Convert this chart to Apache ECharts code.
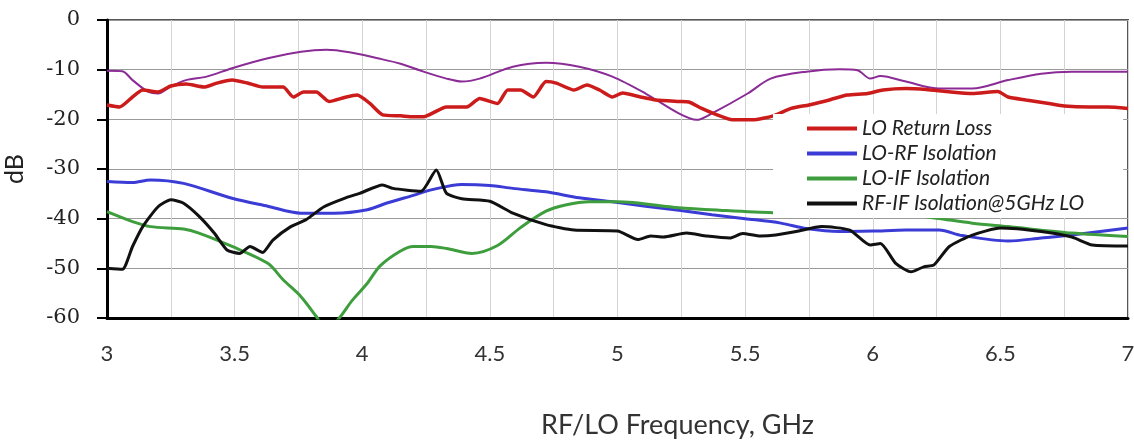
<!DOCTYPE html>
<html>
<head>
<meta charset="utf-8">
<script src="https://cdn.jsdelivr.net/npm/echarts@6/dist/echarts.min.js"></script>
<style>
html,body{margin:0;padding:0;background:#fff;}
#chart{width:1134px;height:444px;}
</style>
</head>
<body>
<div id="chart"></div>
<script>
// ---- data ----
const seriesNames = ['LO Return Loss', 'LO-RF Isolation', 'LO-IF Isolation', 'RF-IF Isolation@5GHz LO'];

const returnLossFreq = [3.00,3.05,3.10,3.14,3.20,3.25,3.31,3.38,3.43,3.49,3.55,3.61,3.69,3.73,3.77,3.82,3.87,3.93,3.98,4.03,4.08,4.15,4.20,4.24,4.33,4.41,4.46,4.53,4.57,4.62,4.67,4.72,4.76,4.83,4.88,4.93,4.98,5.02,5.09,5.15,5.24,5.28,5.33,5.39,5.45,5.53,5.61,5.68,5.75,5.83,5.90,5.98,6.04,6.13,6.21,6.29,6.39,6.49,6.53,6.60,6.69,6.75,6.85,6.92,7.00];
const returnLossDb   = [-17.1,-17.5,-15.5,-14.1,-14.5,-13.3,-12.9,-13.5,-12.7,-12.1,-12.7,-13.5,-13.5,-15.5,-14.5,-14.5,-16.4,-15.6,-15.1,-16.8,-19.1,-19.3,-19.5,-19.5,-17.5,-17.5,-15.8,-16.8,-14.1,-14.1,-15.5,-12.4,-12.7,-14.1,-13.1,-14.1,-15.5,-14.7,-15.5,-16.1,-16.4,-16.5,-17.8,-19.1,-20.1,-20.1,-19.3,-17.8,-17.1,-16.1,-15.1,-14.8,-14.1,-13.8,-14.0,-14.4,-14.8,-14.4,-15.5,-16.1,-16.8,-17.3,-17.5,-17.5,-17.8];

const loRfFreq = [3.00,3.10,3.17,3.30,3.49,3.63,3.76,3.89,4.02,4.10,4.20,4.27,4.39,4.50,4.59,4.72,4.85,4.98,5.11,5.24,5.37,5.50,5.64,5.74,5.87,6.00,6.13,6.26,6.35,6.53,6.66,6.78,7.00];
const loRfDb   = [-32.5,-32.7,-32.2,-32.9,-35.9,-37.5,-38.9,-38.9,-38.2,-36.8,-35.3,-34.2,-33.1,-33.3,-33.9,-34.6,-35.8,-36.6,-37.5,-38.3,-39.2,-40.0,-40.9,-42.0,-42.6,-42.5,-42.3,-42.3,-43.4,-44.5,-43.9,-43.3,-41.9];

const loIfFreq = [3.00,3.10,3.17,3.30,3.36,3.49,3.63,3.69,3.76,3.82,3.86,3.91,3.96,4.02,4.07,4.15,4.20,4.27,4.33,4.43,4.53,4.62,4.72,4.80,4.89,5.00,5.24,5.40,5.61,5.90,6.15,6.25,6.39,6.53,6.78,7.00];
const loIfDb   = [-38.6,-40.6,-41.6,-42.1,-42.9,-45.6,-49.0,-52.3,-55.7,-59.7,-62.5,-60.0,-56.5,-53.0,-49.5,-46.5,-45.6,-45.6,-46.0,-47.0,-45.4,-41.8,-38.5,-37.2,-36.6,-36.6,-37.8,-38.3,-38.8,-39.0,-39.3,-39.9,-40.9,-41.6,-42.9,-43.6];

const rfIfFreq = [3.00,3.06,3.10,3.14,3.20,3.25,3.30,3.36,3.42,3.47,3.52,3.56,3.61,3.65,3.72,3.78,3.85,3.93,3.99,4.08,4.12,4.23,4.29,4.33,4.39,4.50,4.59,4.72,4.83,5.00,5.08,5.13,5.18,5.27,5.35,5.44,5.49,5.56,5.62,5.70,5.80,5.91,5.99,6.03,6.09,6.15,6.20,6.24,6.30,6.39,6.50,6.66,6.78,6.86,7.00];
const rfIfDb   = [-50.0,-50.2,-45.6,-41.6,-37.6,-36.2,-36.9,-39.5,-42.9,-46.3,-47.0,-45.6,-46.8,-44.3,-41.6,-40.2,-37.6,-35.9,-34.9,-33.2,-33.9,-34.5,-30.2,-34.9,-36.0,-36.5,-38.9,-41.2,-42.3,-42.5,-44.2,-43.5,-43.7,-42.9,-43.5,-43.9,-43.0,-43.5,-43.3,-42.6,-41.6,-42.3,-45.3,-45.0,-49.0,-50.7,-49.7,-49.3,-45.6,-43.3,-41.9,-42.6,-43.7,-45.3,-45.5];

// unlabelled purple trace
const extraFreq = [3.00,3.06,3.10,3.16,3.20,3.25,3.31,3.39,3.49,3.63,3.76,3.86,3.95,4.06,4.15,4.24,4.33,4.39,4.46,4.59,4.72,4.85,4.98,5.11,5.24,5.31,5.37,5.51,5.60,5.74,5.87,5.94,5.99,6.03,6.13,6.26,6.39,6.53,6.66,6.78,7.00];
const extraDb   = [-10.2,-10.3,-12.1,-14.4,-14.8,-13.4,-12.1,-11.4,-9.7,-7.7,-6.4,-6.0,-6.5,-7.7,-8.8,-10.4,-11.8,-12.4,-11.8,-9.4,-8.6,-9.4,-11.4,-14.8,-18.8,-20.1,-18.8,-14.8,-11.8,-10.4,-9.9,-10.1,-11.8,-11.3,-12.4,-13.8,-13.8,-12.1,-10.8,-10.4,-10.4];

const xTicks = [3, 3.5, 4, 4.5, 5, 5.5, 6, 6.5, 7];
const yTicks = [0, -10, -20, -30, -40, -50, -60];

function pairs(xs, ys){ return xs.map((x,i)=>[x, ys[i]]); }

const chart = echarts.init(document.getElementById('chart'));
const labelFont = 'Lato, "Open Sans", sans-serif';

chart.setOption({
  animation: false,
  backgroundColor: '#fff',
  grid: {left: 107, right: 6, top: 20, bottom: 126, show: true, borderColor: '#555', borderWidth: 2,
    backgroundColor: 'transparent', containLabel: false, outerBoundsMode: 'none'},
  xAxis: {
    type: 'value', min: xTicks[0], max: xTicks[xTicks.length-1], interval: 0.25,
    name: 'RF/LO Frequency, GHz', nameLocation: 'middle', nameGap: 94,
    nameTextStyle: {fontFamily: labelFont, fontSize: 27, color: '#333', padding: [0, 0, 0, 120]},
    axisLine: {show: true, onZero: false, lineStyle: {color: '#000', width: 3}},
    axisTick: {show: false},
    axisLabel: {margin: 25, fontFamily: labelFont, fontSize: 22, color: '#333',
      formatter: v => xTicks.some(t => Math.abs(t - v) < 1e-6) ? String(v) : ''},
    splitLine: {show: true, lineStyle: {color: '#d4d4d4', width: 1}}
  },
  yAxis: {
    type: 'value', min: yTicks[yTicks.length-1], max: yTicks[0], interval: 10,
    name: 'dB', nameLocation: 'middle', nameGap: 80, nameRotate: 90,
    nameTextStyle: {fontFamily: labelFont, fontSize: 25, color: '#222'},
    axisLine: {show: true, onZero: false, lineStyle: {color: '#000', width: 3}},
    axisTick: {show: true, length: 10, lineStyle: {color: '#000', width: 2}},
    axisLabel: {margin: 27, fontFamily: '"DejaVu Serif", serif', fontSize: 21, color: '#222'},
    splitLine: {show: true, lineStyle: {color: '#999', width: 1}}
  },
  legend: {
    data: seriesNames,
    orient: 'vertical', left: 773, top: 114,
    backgroundColor: '#fff',
    padding: [2, 39, 2, 34],
    icon: 'rect', itemWidth: 50, itemHeight: 4, itemGap: 0,
    textStyle: {fontFamily: labelFont, fontStyle: 'italic', fontSize: 21, lineHeight: 25, color: '#222'}
  },
  series: [
    {name: 'extra', type: 'line', data: pairs(extraFreq, extraDb), showSymbol: false, smooth: 0.3,
      lineStyle: {color: '#8a2b96', width: 2}, itemStyle: {color: '#8a2b96'}},
    {name: seriesNames[0], type: 'line', data: pairs(returnLossFreq, returnLossDb), showSymbol: false, smooth: 0.2,
      lineStyle: {color: '#cc1b1b', width: 3.5}, itemStyle: {color: '#cc1b1b'}},
    {name: seriesNames[1], type: 'line', data: pairs(loRfFreq, loRfDb), showSymbol: false, smooth: 0.3,
      lineStyle: {color: '#3b3bd6', width: 3}, itemStyle: {color: '#3b3bd6'}},
    {name: seriesNames[2], type: 'line', data: pairs(loIfFreq, loIfDb), showSymbol: false, smooth: 0.3,
      lineStyle: {color: '#3e9e3e', width: 3}, itemStyle: {color: '#3e9e3e'}},
    {name: seriesNames[3], type: 'line', data: pairs(rfIfFreq, rfIfDb), showSymbol: false, smooth: 0.2,
      lineStyle: {color: '#111', width: 3}, itemStyle: {color: '#111'}}
  ]
});
</script>
</body>
</html>
